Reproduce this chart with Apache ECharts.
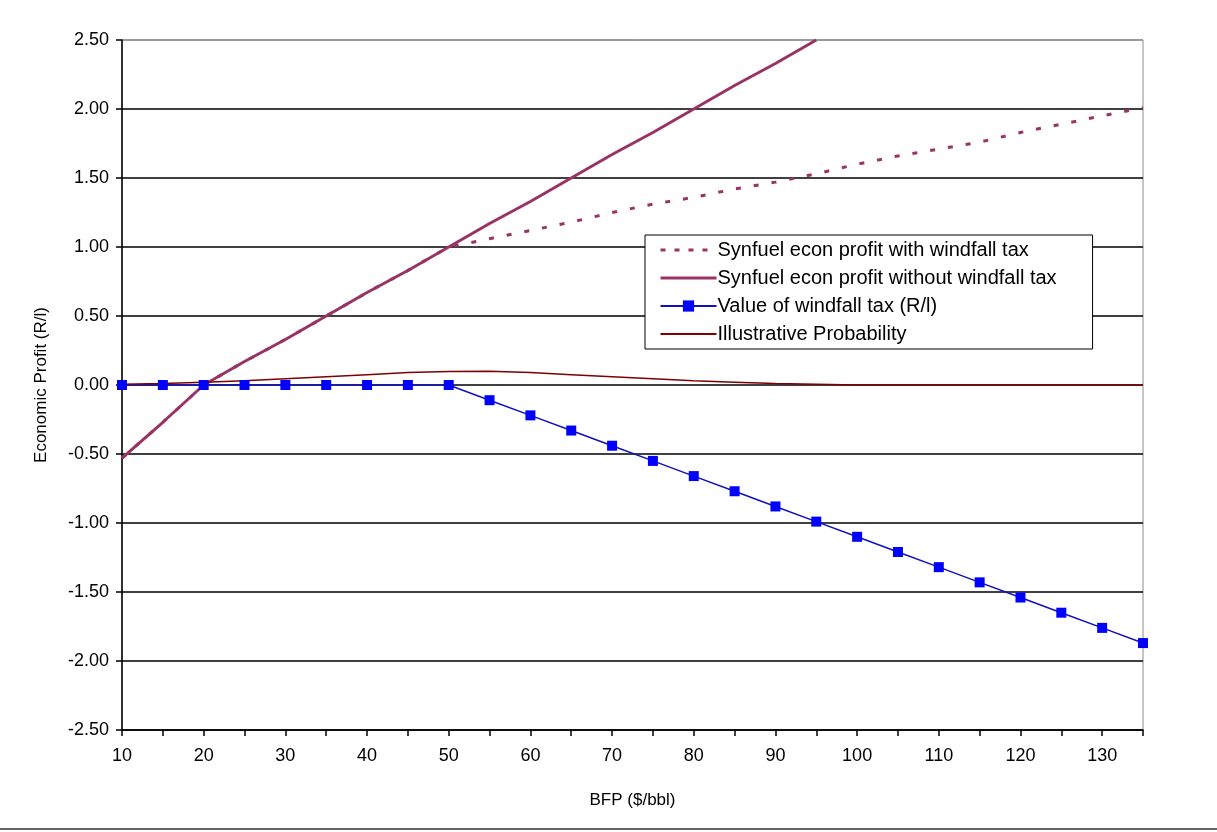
<!DOCTYPE html>
<html>
<head>
<meta charset="utf-8">
<title>Synfuel economic profit</title>
<script src="https://cdn.jsdelivr.net/npm/echarts@6/dist/echarts.min.js"></script>
<style>
  html, body { margin: 0; padding: 0; background: #fff; }
  #chart { width: 1217px; height: 832px; }
</style>
</head>
<body>
<div id="chart"></div>
<script>
  // BFP ($/bbl) categories, every 5
  var bfp = [10, 15, 20, 25, 30, 35, 40, 45, 50, 55, 60, 65, 70, 75, 80, 85, 90, 95,
             100, 105, 110, 115, 120, 125, 130, 135];

  // economic profit (R/l)
  var profitWithTax = [-0.53, -0.27, 0.00, 0.17, 0.33, 0.50, 0.67, 0.83, 1.00,
                       1.06, 1.12, 1.18, 1.25, 1.31, 1.36, 1.42, 1.47, 1.53,
                       1.60, 1.66, 1.71, 1.76, 1.83, 1.89, 1.95, 2.01];
  // only runs to 95, past that it is off the top of the chart
  var profitWithoutTax = [-0.53, -0.27, 0.00, 0.17, 0.33, 0.50, 0.67, 0.83, 1.00,
                          1.17, 1.33, 1.50, 1.67, 1.83, 2.00, 2.17, 2.33, 2.50];
  var windfallTax = [0, 0, 0, 0, 0, 0, 0, 0, 0,
                     -0.11, -0.22, -0.33, -0.44, -0.55, -0.66, -0.77, -0.88, -0.99,
                     -1.10, -1.21, -1.32, -1.43, -1.54, -1.65, -1.76, -1.87];
  var probability = [0.005, 0.01, 0.02, 0.03, 0.045, 0.06, 0.075, 0.09, 0.098,
                     0.10, 0.09, 0.075, 0.06, 0.045, 0.03, 0.02, 0.01, 0.005,
                     0, 0, 0, 0, 0, 0, 0, 0];

  var seriesNames = [
    'Synfuel econ profit with windfall tax',
    'Synfuel econ profit without windfall tax',
    'Value of windfall tax (R/l)',
    'Illustrative Probability'
  ];

  function pairs(vals) {
    return vals.map(function (v, i) { return [bfp[i], v]; });
  }

  var font = 'Arial, "Liberation Sans", sans-serif';
  var chart = echarts.init(document.getElementById('chart'));

  // lines without markers: hide the dot the legend puts in the middle
  var noDot = { color: 'rgba(0,0,0,0)', opacity: 0, borderWidth: 0 };

  var option = {
    animation: false,
    backgroundColor: '#fff',
    textStyle: { fontFamily: font },
    grid: {
      left: 122, right: 74, top: 40, bottom: 102,
      show: true, borderColor: '#8c8c8c', borderWidth: 1
    },
    legend: {
      data: [
        { name: seriesNames[0], itemStyle: noDot, lineStyle: { width: 3, type: [5, 9] } },
        { name: seriesNames[1], itemStyle: noDot, lineStyle: { width: 3 } },
        { name: seriesNames[2] },
        { name: seriesNames[3], itemStyle: noDot }
      ],
      orient: 'vertical',
      left: 645, top: 235,
      itemWidth: 56, itemHeight: 14, itemGap: 8,
      padding: [5, 36, 5, 14],
      borderColor: '#000', borderWidth: 1,
      backgroundColor: '#fff',
      textStyle: { fontFamily: font, fontSize: 20, color: '#000', padding: [0, 0, 0, -4] }
    },
    xAxis: {
      type: 'value',
      min: 10, max: 135, interval: 5,
      name: 'BFP ($/bbl)',
      nameLocation: 'middle', nameGap: 62,
      nameTextStyle: { fontFamily: font, fontSize: 17, color: '#000' },
      axisLine: { onZero: false, lineStyle: { color: '#000', width: 1.5 } },
      axisTick: { length: 6, lineStyle: { color: '#000', width: 1.5 } },
      axisLabel: {
        fontFamily: font, fontSize: 18, color: '#000', margin: 17,
        formatter: function (v) { return (v - 10) % 10 === 0 ? String(v) : ''; }
      },
      splitLine: { show: false }
    },
    yAxis: {
      type: 'value',
      min: -2.5, max: 2.5, interval: 0.5,
      name: 'Economic Profit (R/l)',
      nameLocation: 'middle', nameGap: 72,
      nameTextStyle: { fontFamily: font, fontSize: 17, color: '#000' },
      axisLine: { show: true, onZero: false, lineStyle: { color: '#000', width: 1.5 } },
      axisTick: { show: true, length: 6, lineStyle: { color: '#000', width: 1.5 } },
      axisLabel: {
        fontFamily: font, fontSize: 18, color: '#000', margin: 13,
        formatter: function (v) { return v.toFixed(2); }
      },
      splitLine: {
        show: true,
        lineStyle: {
          color: ['#000', '#000', '#000', '#000', '#000', '#000', '#000', '#000', '#000', '#000', '#8c8c8c'],
          width: 1.5
        }
      }
    },
    series: [
      {
        name: seriesNames[0],
        type: 'line',
        data: pairs(profitWithTax),
        symbol: 'none',
        lineStyle: { color: '#993366', width: 3, type: [5, 13] },
        itemStyle: { color: '#993366' }
      },
      {
        name: seriesNames[1],
        type: 'line',
        data: pairs(profitWithoutTax),
        symbol: 'none',
        lineStyle: { color: '#993366', width: 3 },
        itemStyle: { color: '#993366' }
      },
      {
        name: seriesNames[2],
        type: 'line',
        data: pairs(windfallTax),
        symbol: 'rect',
        symbolSize: 10,
        lineStyle: { color: '#1010c0', width: 1.5 },
        itemStyle: { color: '#0000ff' }
      },
      {
        name: seriesNames[3],
        type: 'line',
        data: pairs(probability),
        symbol: 'none',
        lineStyle: { color: '#800000', width: 1.5 },
        itemStyle: { color: '#800000' }
      }
    ],
    graphic: [
      {
        type: 'line',
        shape: { x1: 0, y1: 829, x2: 1217, y2: 829 },
        style: { stroke: '#666', lineWidth: 2 }
      }
    ]
  };

  chart.setOption(option);
</script>
</body>
</html>
